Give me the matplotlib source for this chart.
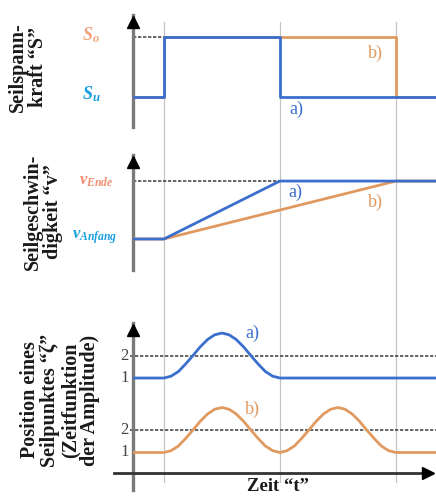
import matplotlib
matplotlib.use("Agg")
import matplotlib.pyplot as plt

plt.rcParams['font.family'] = ['Liberation Serif', 'DejaVu Serif']
plt.rcParams['mathtext.fontset'] = 'custom'
plt.rcParams['mathtext.it'] = 'Liberation Serif:italic:bold'
plt.rcParams['mathtext.rm'] = 'Liberation Serif:bold'
plt.rcParams['mathtext.bf'] = 'Liberation Serif:bold'

# event times (arbitrary units) and end of the time axis
events = [1.0, 4.75, 8.5]
t_end = 9.8

# Seilspannkraft S (1 = S_u, 3 = S_o), step curves
force_t_a = [0, 1.0, 4.75, 9.8]
force_a = [1, 3, 1, 1]
force_t_b = [0, 1.0, 8.5, 9.8]
force_b = [1, 3, 1, 1]

# Seilgeschwindigkeit v (1 = v_Anfang, 3 = v_Ende)
speed_t_a = [0, 1.0, 4.75, 9.8]
speed_a = [1, 1, 3, 3]
speed_t_b = [0, 1.0, 8.5, 9.8]
speed_b = [1, 1, 3, 3]

# Position eines Seilpunktes zeta
pos_t_a = [0, 1.0, 1.23, 1.47, 1.70, 1.94, 2.17, 2.41, 2.64, 2.88, 3.11, 3.34,
           3.58, 3.81, 4.05, 4.28, 4.52, 4.75, 9.8]
pos_a = [1, 1, 1.08, 1.29, 1.62, 2.0, 2.38, 2.71, 2.92, 3.0, 2.92, 2.71,
         2.38, 2.0, 1.62, 1.29, 1.08, 1, 1]
pos_t_b = [0, 1.0, 1.23, 1.47, 1.70, 1.94, 2.17, 2.41, 2.64, 2.88, 3.11, 3.34,
           3.58, 3.81, 4.05, 4.28, 4.52, 4.75, 4.98, 5.22, 5.45, 5.69, 5.92,
           6.16, 6.39, 6.63, 6.86, 7.09, 7.33, 7.56, 7.80, 8.03, 8.27, 8.5, 9.8]
pos_b = [1, 1, 1.08, 1.29, 1.62, 2.0, 2.38, 2.71, 2.92, 3.0, 2.92, 2.71,
         2.38, 2.0, 1.62, 1.29, 1.08, 1, 1.08, 1.29, 1.62, 2.0, 2.38,
         2.71, 2.92, 3.0, 2.92, 2.71, 2.38, 2.0, 1.62, 1.29, 1.08, 1, 1]
levels = [1, 2]

W, H = 436, 496
BLUE = '#3b6fcd'
ORANGE = '#e09a60'
GRID = '#c4c4c4'
AXIS = '#7a7a7a'
DASH = '#4a4a4a'
LW = 2.0


def place(left, top, right, bottom):
    return [left / W, 1 - bottom / H, (right - left) / W, (bottom - top) / H]


fig = plt.figure(figsize=(W / 100, H / 100), dpi=100)

# background axes for the vertical time marks
bg = fig.add_axes(place(133, 0, 436, 496))
bg.set_xlim(0, t_end)
bg.set_ylim(0, 1)
bg.axis('off')
for t in events:
    bg.axvline(t, ymin=1 - 482 / H, ymax=1 - 22 / H, color=GRID, lw=0.9)


def panel(rect, ylim, arrow_top):
    ax = fig.add_axes(rect)
    ax.patch.set_alpha(0)
    ax.set_xlim(0, t_end)
    ax.set_ylim(*ylim)
    for s in ['top', 'right', 'bottom']:
        ax.spines[s].set_visible(False)
    ax.spines['left'].set_color(AXIS)
    ax.spines['left'].set_linewidth(2.4)
    ax.set_xticks([])
    ax.set_yticks([])
    ax.plot(0, arrow_top, marker='^', color='black', markersize=9,
            clip_on=False, zorder=6)
    return ax


# --- top: Seilspannkraft
ax1 = panel(place(133, 15, 436, 127), (0, 3.73), 3.5)
ax1.plot([0, events[0]], [3, 3], color=DASH, lw=1.2, ls=(0, (2, 1)))
ax1.step(force_t_b, force_b, where='post', color=ORANGE, lw=LW, zorder=3)
ax1.step(force_t_a, force_a, where='post', color=BLUE, lw=LW, zorder=4)
ax1.text(-1.35, 3.05, r'$S_o$', color='#f3a37e', fontsize=13, ha='center', va='center')
ax1.text(-1.35, 1.1, r'$S_u$', color='#1a9fe2', fontsize=13, ha='center', va='center')
ax1.text(5.3, 0.6, 'a)', color=BLUE, fontsize=13, ha='center', va='center')
ax1.text(7.85, 2.45, 'b)', color=ORANGE, fontsize=13, ha='center', va='center')

# --- middle: Seilgeschwindigkeit
ax2 = panel(place(133, 155, 436, 270), (-0.07, 3.9), 3.67)
ax2.plot([0, events[1]], [3, 3], color=DASH, lw=1.2, ls=(0, (2, 1)))
ax2.plot(speed_t_b, speed_b, color=ORANGE, lw=LW, zorder=3)
ax2.plot(speed_t_a, speed_a, color=BLUE, lw=LW, zorder=4)
ax2.text(-1.2, 3.0, r'$v_{Ende}$', color='#f28c6c', fontsize=12, ha='center', va='center')
ax2.text(-1.25, 1.05, r'$v_{Anfang}$', color='#1a9fe2', fontsize=12, ha='center', va='center')
ax2.text(5.25, 2.6, 'a)', color=BLUE, fontsize=13, ha='center', va='center')
ax2.text(7.85, 2.25, 'b)', color=ORANGE, fontsize=13, ha='center', va='center')

# --- bottom: Position eines Seilpunktes
off_a = 3.31
ax3 = panel(place(133, 323, 436, 490), (-0.667, 6.756), 6.45)
for lv in levels[1:]:
    ax3.plot([-0.1, t_end], [lv + off_a, lv + off_a], color=DASH, lw=1.2,
             ls=(0, (2, 1)), clip_on=False)
    ax3.plot([-0.1, t_end], [lv, lv], color=DASH, lw=1.2,
             ls=(0, (2, 1)), clip_on=False)
for lv in levels:
    ax3.text(-0.27, lv + off_a, str(lv), fontsize=12, color='#444444',
             ha='center', va='center', fontweight='normal')
    ax3.text(-0.27, lv, str(lv), fontsize=12, color='#444444',
             ha='center', va='center', fontweight='normal')
ax3.plot(pos_t_b, pos_b, color=ORANGE, lw=LW, zorder=3)
ax3.plot(pos_t_a, [v + off_a for v in pos_a], color=BLUE, lw=LW, zorder=4)
# time axis
ax3.plot([-0.62, t_end - 0.15], [0.09, 0.09], color='#333333', lw=2.0,
         clip_on=False, zorder=5)
ax3.plot(t_end - 0.25, 0.09, marker='>', color='black', markersize=9,
         clip_on=False, zorder=6)
ax3.text(3.85, 6.3, 'a)', color=BLUE, fontsize=13, ha='center', va='center')
ax3.text(3.85, 2.9, 'b)', color=ORANGE, fontsize=13, ha='center', va='center')

# axis titles
lab = dict(rotation=90, ha='center', va='center', multialignment='center',
           fontsize=14.5, fontweight='bold', linespacing=1.0, color='#1a1a1a')
fig.text(28 / W, 1 - 67 / H, 'Seilspann-\nkraft \u201cS\u201d', **lab)
fig.text(43 / W, 1 - 212 / H, 'Seilgeschwin-\ndigkeit \u201cv\u201d', **lab)
fig.text(60 / W, 1 - 400 / H,
         'Position eines\nSeilpunktes \u201c\u03b6\u201d\n(Zeitfunktion\nder Amplitude)',
         **lab)
fig.text(278 / W, 1 - 478 / H, 'Zeit \u201ct\u201d', ha='center', va='top',
         fontsize=13.5, fontweight='bold', color='#1a1a1a')

fig.savefig('out.png', dpi=100)
